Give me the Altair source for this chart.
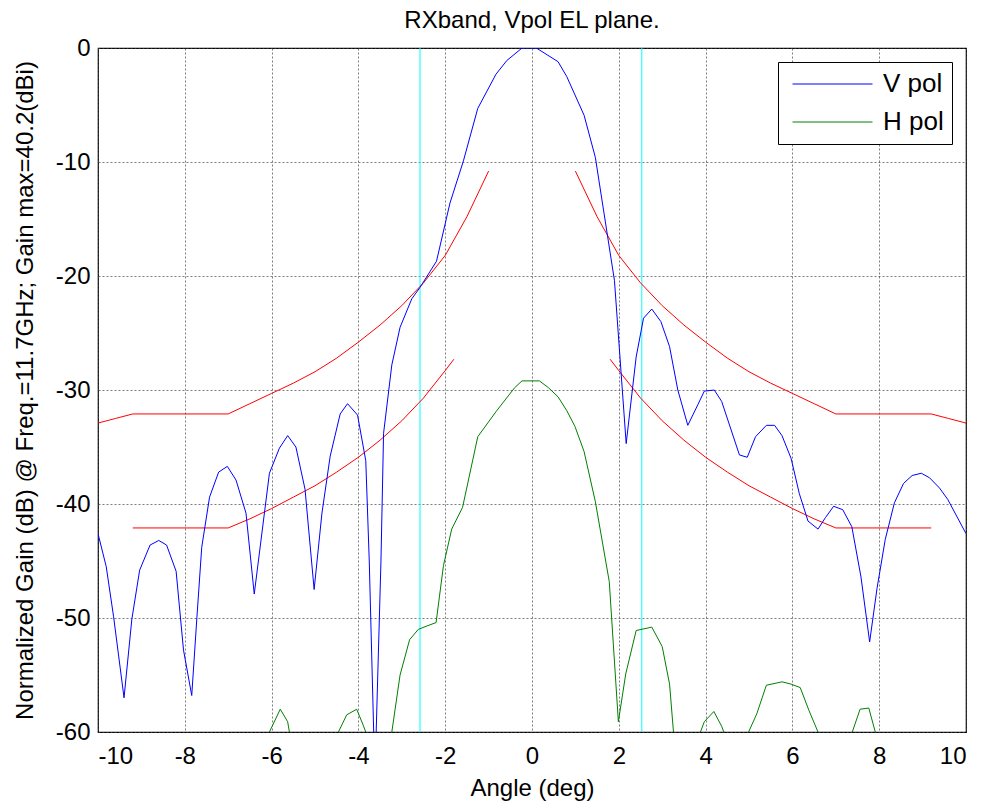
import altair as alt
import pandas as pd

F = "Liberation Sans"

# ---------------- data ----------------
# V pol (co-polar) pattern
v_x = [-10.0, -9.81, -9.64, -9.40, -9.22, -9.04, -8.80, -8.60, -8.42, -8.20, -8.03, -7.84,
       -7.72, -7.61, -7.43, -7.22, -7.02, -6.82, -6.59, -6.40, -6.05, -5.82, -5.63, -5.44,
       -5.23, -5.02, -4.84, -4.65, -4.42, -4.25, -4.02, -3.83, -3.75, -3.62, -3.48, -3.42,
       -3.23, -3.04, -2.77, -2.58, -2.20, -1.89, -1.58, -1.25, -0.83, -0.58, -0.23, 0.10,
       0.60, 0.80, 1.20, 1.46, 1.90, 2.17, 2.40, 2.57, 2.76, 2.97, 3.17, 3.36, 3.59, 3.82,
       3.97, 4.20, 4.37, 4.78, 4.96, 5.15, 5.40, 5.59, 5.76, 5.97, 6.16, 6.36, 6.59, 6.76,
       6.95, 7.16, 7.37, 7.58, 7.78, 7.95, 8.14, 8.35, 8.56, 8.76, 8.97, 9.16, 9.39, 9.58,
       10.0]
v_y = [-42.6, -45.5, -49.9, -57.0, -50.1, -45.8, -43.6, -43.2, -43.6, -45.9, -52.8, -56.8,
       -49.9, -43.8, -39.4, -37.2, -36.7, -37.9, -40.8, -47.9, -37.3, -35.1, -34.0, -35.0,
       -38.7, -47.5, -40.8, -35.8, -32.1, -31.2, -32.2, -36.2, -45.0, -64.0, -45.0, -33.8,
       -27.8, -24.5, -22.0, -21.0, -18.7, -13.6, -9.9, -5.3, -2.3, -1.1, 0.0, 0.0,
       -1.2, -2.5, -5.9, -9.6, -20.4, -34.7, -27.1, -23.7, -22.9, -24.0, -26.2, -30.0, -33.1, -31.3,
       -30.1, -30.0, -31.0, -35.7, -35.9, -34.1, -33.1, -33.1, -34.0, -36.0, -39.1, -41.5, -42.2, -41.2,
       -40.2, -40.5, -42.0, -46.4, -52.1, -47.4, -43.1, -39.9, -38.2, -37.5, -37.3, -37.7, -38.6, -39.6,
       -42.6]

# H pol (cross-polar) pattern, visible pieces above -60 dB
h_seg = [1, 1, 1, 1,
         2, 2, 2, 2, 2,
         3, 3, 3, 3, 3, 3, 3, 3, 3, 3, 3, 3, 3, 3, 3, 3, 3, 3, 3, 3, 3, 3, 3, 3, 3, 3, 3, 3,
         4, 4, 4, 4, 4,
         5, 5, 5, 5, 5, 5, 5, 5,
         6, 6, 6, 6]
h_x = [-6.05, -5.80, -5.63, -5.59,
       -4.46, -4.27, -4.04, -3.90, -3.83,
       -3.23, -3.04, -2.82, -2.62, -2.42, -2.21, -2.04, -1.85, -1.60, -1.25, -0.83, -0.40, -0.23,
       0.17, 0.38, 0.60, 0.80, 0.99, 1.20, 1.46, 1.78, 1.99, 2.16, 2.40, 2.76, 3.00, 3.17, 3.26,
       3.88, 3.97, 4.19, 4.37, 4.42,
       4.99, 5.18, 5.40, 5.76, 5.97, 6.18, 6.38, 6.59,
       7.38, 7.56, 7.76, 7.91]
h_y = [-60.0, -58.0, -59.1, -60.0,
       -60.0, -58.5, -58.0, -59.3, -60.0,
       -60.0, -55.0, -51.9, -51.0, -50.7, -50.4, -45.4, -42.2, -40.3, -34.1, -31.9, -29.8, -29.2,
       -29.2, -29.8, -30.6, -31.8, -33.2, -35.4, -39.8, -46.8, -59.1, -54.9, -51.1, -50.8, -52.5, -55.8, -60.0,
       -60.0, -59.1, -58.2, -59.5, -60.0,
       -60.0, -58.4, -55.9, -55.6, -55.8, -56.1, -58.1, -60.0,
       -60.0, -58.0, -57.9, -60.0]

# red envelope masks (upper and lower, left and right)
mask_seg = ["UL"] * 16 + ["LL"] * 13 + ["UR"] * 16 + ["LR"] * 13
mask_x = [-10.0, -9.6, -9.2, -7.0, -6.5, -6.0, -5.5, -5.0, -4.5, -4.0, -3.5, -3.0, -2.5, -2.0, -1.5, -1.0,
          -9.2, -7.0, -6.5, -6.0, -5.5, -5.0, -4.5, -4.0, -3.5, -3.0, -2.5, -2.0, -1.8,
          1.0, 1.5, 2.0, 2.5, 3.0, 3.5, 4.0, 4.5, 5.0, 5.5, 6.0, 6.5, 7.0, 9.2, 9.6, 10.0,
          1.8, 2.0, 2.5, 3.0, 3.5, 4.0, 4.5, 5.0, 5.5, 6.0, 6.5, 7.0, 9.2]
mask_y = [-32.9, -32.5, -32.1, -32.1, -31.2, -30.3, -29.4, -28.4, -27.2, -25.8, -24.3, -22.6, -20.6, -18.2, -14.8, -10.8,
          -42.1, -42.1, -41.3, -40.4, -39.4, -38.4, -37.2, -35.9, -34.4, -32.7, -30.7, -28.3, -27.3,
          -10.8, -14.8, -18.2, -20.6, -22.6, -24.3, -25.8, -27.2, -28.4, -29.4, -30.3, -31.2, -32.1, -32.1, -32.5, -32.9,
          -27.3, -28.3, -30.7, -32.7, -34.4, -35.9, -37.2, -38.4, -39.4, -40.4, -41.3, -42.1, -42.1]

# cyan markers
marker_x = [-2.58, 2.53]

x_ticks = [-10, -8, -6, -4, -2, 0, 2, 4, 6, 8, 10]
y_ticks = [-60, -50, -40, -30, -20, -10, 0]

# ---------------- tables ----------------
df_pat = pd.concat([
    pd.DataFrame({"x": v_x, "y": v_y, "series": "V pol", "seg": "V"}),
    pd.DataFrame({"x": h_x, "y": h_y, "series": "H pol", "seg": ["H" + str(s) for s in h_seg]}),
], ignore_index=True)
df_mask = pd.DataFrame({"x": mask_x, "y": mask_y, "seg": mask_seg})
df_mark = pd.DataFrame({"x": marker_x})

xscale = alt.Scale(domain=[-10, 10], nice=False, zero=False)
yscale = alt.Scale(domain=[-60, 0], nice=False, zero=False)

xaxis = alt.Axis(values=x_ticks, title="Angle (deg)", labelExpr="'' + datum.value",
                 grid=True, ticks=False, tickSize=0, domain=False, labelPadding=12,
                 titlePadding=8)
yaxis = alt.Axis(values=y_ticks, title="Normalized Gain (dB) @ Freq.=11.7GHz; Gain max=40.2(dBi)",
                 labelExpr="'' + datum.value", grid=True, ticks=False, tickSize=0, domain=False,
                 labelPadding=8, titlePadding=18)

pattern = alt.Chart(df_pat).mark_line(strokeWidth=1, clip=True).encode(
    x=alt.X("x:Q", scale=xscale, axis=xaxis),
    y=alt.Y("y:Q", scale=yscale, axis=yaxis),
    detail="seg:N",
    color=alt.Color("series:N",
                    scale=alt.Scale(domain=["V pol", "H pol"], range=["#0000ff", "#008000"]),
                    sort=["V pol", "H pol"],
                    legend=alt.Legend(title=None, orient="none", legendX=680, legendY=14,
                                      symbolType="stroke", symbolSize=6400, symbolStrokeWidth=1,
                                      symbolStrokeColor=None if False else alt.Undefined,
                                      labelFontSize=26, labelFont=F, labelColor="black",
                                      labelOffset=10, strokeColor="black", fillColor="white",
                                      padding=8, clipHeight=28, rowPadding=10, symbolOffset=6,
                                      direction="vertical")),
)

markers = alt.Chart(df_mark).mark_rule(strokeWidth=1).encode(
    x=alt.X("x:Q", scale=xscale, axis=xaxis),
    color=alt.value("#00ffff"),
)

masks = alt.Chart(df_mask).mark_line(strokeWidth=1, clip=True).encode(
    x=alt.X("x:Q", scale=xscale, axis=xaxis),
    y=alt.Y("y:Q", scale=yscale, axis=yaxis),
    detail="seg:N",
    color=alt.value("#ff0000"),
)

chart = alt.layer(markers, masks, pattern).properties(
    width=868,
    height=684,
    title=alt.Title("RXband, Vpol EL plane.", fontSize=24, font=F, fontWeight="normal",
                    color="black", anchor="middle", offset=3),
    autosize=alt.AutoSizeParams(type="none"),
    padding={"left": 98, "top": 48, "right": 20, "bottom": 75},
).configure_view(
    stroke="black", strokeWidth=1.2
).configure_axis(
    labelFont=F, labelFontSize=24, labelColor="black",
    titleFont=F, titleFontSize=24, titleFontWeight="normal", titleColor="black",
    gridColor="#444444", gridOpacity=0.7, gridDash=[2, 2], gridWidth=1,
)

chart.save("out.html", embed_options={"renderer": "svg", "actions": False})
